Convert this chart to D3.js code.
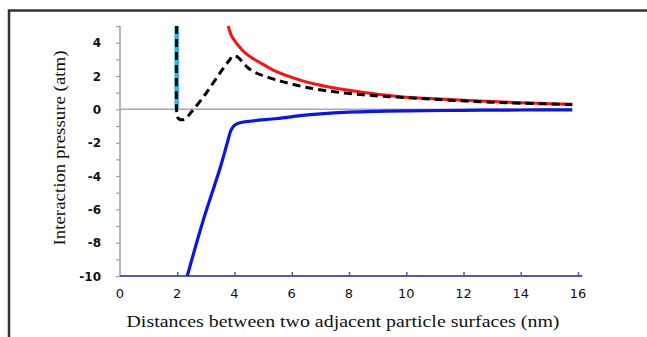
<!DOCTYPE html>
<html>
<head>
<meta charset="utf-8">
<script src="https://cdn.jsdelivr.net/npm/d3@7"></script>
<style>
  body { margin: 0; background: #fff; overflow: hidden; }
  svg { display: block; }
</style>
</head>
<body>
<svg id="chart" width="647" height="337"></svg>
<script>
// values
const xTicks = [0, 2, 4, 6, 8, 10, 12, 14, 16]
const yTicks = [4, 2, 0, -2, -4, -6, -8, -10]

// red curve
const redX = [3.78, 3.9, 4.08, 4.3, 4.55, 5.0, 5.35, 6.3, 7.0, 8.0, 9.0, 9.8, 11.0, 12.0, 13.0, 14.0, 15.0, 15.8]
const redY = [5.0, 4.4, 3.95, 3.5, 3.15, 2.7, 2.35, 1.75, 1.45, 1.14, 0.9, 0.76, 0.63, 0.55, 0.47, 0.4, 0.34, 0.3]

// black dashed curve
const blackX = [1.98, 1.98, 2.0, 2.08, 2.25, 2.5, 3.0, 3.5, 3.8, 3.95, 4.1, 4.3, 4.5, 4.8, 5.2, 5.7, 6.5, 7.5, 8.5, 9.5, 10.5, 11.5, 12.7, 14.0, 15.8]
const blackY = [5.0, -0.2, -0.45, -0.6, -0.6, -0.15, 0.95, 2.2, 2.9, 3.2, 3.15, 2.8, 2.45, 2.15, 1.9, 1.65, 1.32, 1.05, 0.87, 0.75, 0.65, 0.55, 0.45, 0.37, 0.28]

// blue curve
const blueX = [2.35, 2.9, 3.5, 3.75, 3.88, 4.0, 4.2, 4.6, 5.5, 6.3, 7.0, 8.0, 9.0, 10.0, 12.0, 14.0, 15.8]
const blueY = [-10, -6.7, -3.5, -2.0, -1.25, -0.95, -0.8, -0.7, -0.55, -0.38, -0.27, -0.17, -0.12, -0.09, -0.06, -0.04, -0.03]

// cyan vertical
const cyanX = [1.98, 1.98]
const cyanY = [5.0, 0.0]

const svg = d3.select('#chart')

// frame (only top and left edges fall inside the picture)
svg.append('path')
  .attr('d', 'M9,340V10.5H650')
  .style('fill', 'none')
  .style('stroke', '#333')
  .style('stroke-width', 2.5)

let xScale = d3.scaleLinear().domain([0, 16]).range([120, 578])
let yScale = d3.scaleLinear().domain([-10, 5]).range([276, 26])

// y axis
let yAxis = svg.append('g')
  .attr('transform', `translate(${xScale(0)},0)`)
  .call(d3.axisLeft(yScale).tickValues(d3.range(-10, 6, 1)).tickSize(4).tickFormat(''))
yAxis.select('.domain').attr('d', `M0,${yScale(5)}V${yScale(-10)}`).style('stroke', '#a0a0a0').style('stroke-width', 1.5)
yAxis.selectAll('.tick line').style('stroke', '#a0a0a0').style('stroke-width', 1.2)

svg.append('g').selectAll('text')
  .data(yTicks)
  .enter()
  .append('text')
  .attr('x', 101)
  .attr('y', d => yScale(d) + 4.5)
  .style('text-anchor', 'end')
  .style('font-family', 'DejaVu Sans')
  .style('font-weight', 'bold')
  .style('font-size', '12px')
  .style('fill', '#111')
  .text(d => d)

// zero line
svg.append('line')
  .attr('x1', xScale(0)).attr('x2', xScale(15.8))
  .attr('y1', yScale(0)).attr('y2', yScale(0))
  .style('stroke', '#a8a8a8')
  .style('stroke-width', 1.5)

// x axis
let xAxis = svg.append('g')
  .attr('transform', `translate(0,${yScale(-10)})`)
  .call(d3.axisTop(xScale).tickValues(xTicks).tickSize(4).tickFormat(''))
xAxis.select('.domain').attr('d', `M${xScale(0)},0H${xScale(16.15)}`).style('stroke', '#5858b8').style('stroke-width', 1.8)
xAxis.selectAll('.tick line').style('stroke', '#5858b8').style('stroke-width', 1.5)
xAxis.selectAll('.tick').filter(d => d === 0).remove()

svg.append('g').selectAll('text')
  .data(xTicks)
  .enter()
  .append('text')
  .attr('x', d => xScale(d))
  .attr('y', 298)
  .style('text-anchor', 'middle')
  .style('font-family', 'DejaVu Sans')
  .style('font-size', '13px')
  .style('fill', '#111')
  .text(d => d)

// titles
svg.append('text')
  .attr('x', 343)
  .attr('y', 327)
  .attr('textLength', 433)
  .attr('lengthAdjust', 'spacingAndGlyphs')
  .style('text-anchor', 'middle')
  .style('font-family', 'Liberation Serif')
  .style('font-size', '17px')
  .style('fill', '#111')
  .text('Distances between two adjacent particle surfaces (nm)')

svg.append('text')
  .attr('transform', `translate(65,148) rotate(-90)`)
  .attr('textLength', 195)
  .attr('lengthAdjust', 'spacingAndGlyphs')
  .style('text-anchor', 'middle')
  .style('font-family', 'Liberation Serif')
  .style('font-size', '16px')
  .style('fill', '#111')
  .text('Interaction pressure (atm)')

// curves
let lineGen = d3.line()
  .x(d => xScale(d[0]))
  .y(d => yScale(d[1]))
  .curve(d3.curveCatmullRom.alpha(0.5))

let plotCurve = function (xs, ys, color, width, dash) {
  svg.append('path')
    .attr('d', lineGen(xs.map((v, i) => [v, ys[i]])))
    .style('fill', 'none')
    .style('stroke', color)
    .style('stroke-width', width)
    .style('stroke-dasharray', dash || null)
    .style('stroke-linejoin', 'round')
}

plotCurve(blueX, blueY, '#0a14f0', 3.2)
plotCurve(cyanX, cyanY, '#2fb4e6', 4.5)
plotCurve(redX, redY, '#ff1010', 3)
plotCurve(blackX, blackY, '#000', 3, '8,5')
</script>
</body>
</html>
